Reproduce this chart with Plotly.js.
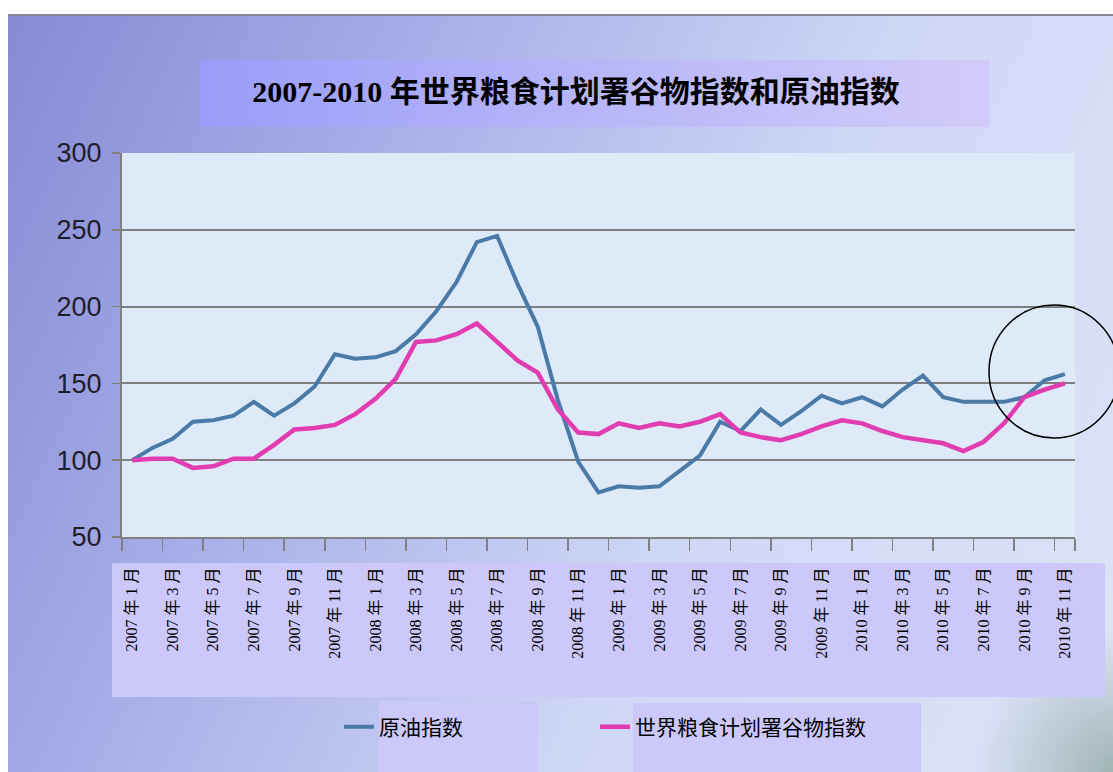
<!DOCTYPE html>
<html>
<head>
<meta charset="utf-8">
<script src="https://cdn.plot.ly/plotly-3.0.1.min.js"></script>
<style>
  html, body { margin: 0; padding: 0; background: #ffffff; }
  #wrap { position: relative; width: 1113px; height: 772px; overflow: hidden; background: #ffffff; }
  #slide {
    position: absolute; left: 8px; top: 14px; right: 0; bottom: 0;
    border-top: 2px solid #8a8a9a;
    background:
      radial-gradient(circle at 100% 100%, rgba(150,172,168,0.85) 0px, rgba(150,172,168,0) 140px),
      linear-gradient(115deg, #868ad4 0%, #a8aee8 30%, #cfd7f6 62%, #dde5f8 100%);
  }
  #titlebox {
    position: absolute; left: 200px; top: 60px; width: 790px; height: 67px;
    background: linear-gradient(90deg, #9a9df8 0%, #b8b6f8 50%, #d2cbfa 100%);
  }
  #chart { position: absolute; left: 0; top: 0; width: 1113px; height: 772px; }
</style>
</head>
<body>
<div id="wrap">
  <div id="slide"></div>
  <div id="titlebox"></div>
  <div id="chart"></div>
</div>
<script>
// Categories: monthly, 2007年1月 – 2010年11月
var months = [
  "2007年1月","2007年2月","2007年3月","2007年4月","2007年5月","2007年6月",
  "2007年7月","2007年8月","2007年9月","2007年10月","2007年11月","2007年12月",
  "2008年1月","2008年2月","2008年3月","2008年4月","2008年5月","2008年6月",
  "2008年7月","2008年8月","2008年9月","2008年10月","2008年11月","2008年12月",
  "2009年1月","2009年2月","2009年3月","2009年4月","2009年5月","2009年6月",
  "2009年7月","2009年8月","2009年9月","2009年10月","2009年11月","2009年12月",
  "2010年1月","2010年2月","2010年3月","2010年4月","2010年5月","2010年6月",
  "2010年7月","2010年8月","2010年9月","2010年10月","2010年11月"
];

// 原油指数
var oilIndex = [
  100,108,114,125,126,129,138,129,137,148,169,166,
  167,171,182,197,216,242,246,215,187,139,99,79,
  83,82,83,93,103,125,119,133,123,132,142,137,
  141,135,146,155,141,138,138,138,141,152,156
];

// 世界粮食计划署谷物指数
var foodIndex = [
  100,101,101,95,96,101,101,110,120,121,123,130,
  140,153,177,178,182,189,177,165,157,133,118,117,
  124,121,124,122,125,130,118,115,113,117,122,126,
  124,119,115,113,111,106,112,124,141,146,150
];

// Tick labels shown on the category axis (every other month)
var tickLabels = [
  "2007年1月","2007年3月","2007年5月","2007年7月","2007年9月","2007年11月",
  "2008年1月","2008年3月","2008年5月","2008年7月","2008年9月","2008年11月",
  "2009年1月","2009年3月","2009年5月","2009年7月","2009年9月","2009年11月",
  "2010年1月","2010年3月","2010年5月","2010年7月","2010年9月","2010年11月"
];
// displayed with the spacing seen in the original labels
var tickText = tickLabels.map(function (s) { return s.replace("年", " 年 ").replace("月", " 月"); });

var yTicks = [50, 100, 150, 200, 250, 300];

var seriesNames = ["原油指数", "世界粮食计划署谷物指数"];
var titleText = "2007-2010 年世界粮食计划署谷物指数和原油指数";

var traces = [
  {
    x: months, y: oilIndex, name: seriesNames[0], type: "scatter", mode: "lines",
    line: { color: "#4a7aa8", width: 4 }, legend: "legend"
  },
  {
    x: months, y: foodIndex, name: seriesNames[1], type: "scatter", mode: "lines",
    line: { color: "#e23cb2", width: 4.5 }, legend: "legend2"
  }
];

var W = 1113, H = 772;
var L = 122, R = 38, T = 153, B = 235;
var pw = W - L - R, ph = H - T - B;
function px(xp) { return (xp - L) / pw; }
function py(yp) { return (H - B - yp) / ph; }

var legendFont = { family: "Noto Sans CJK SC, sans-serif", size: 21, color: "#000000" };

var layout = {
  width: W, height: H,
  margin: { l: L, r: R, t: T, b: B, pad: 0 },
  paper_bgcolor: "rgba(0,0,0,0)",
  plot_bgcolor: "#deeaf7",
  title: {
    text: "<b>" + titleText + "</b>",
    x: 576 / W, xanchor: "center", xref: "container",
    y: 1 - 91 / H, yanchor: "middle", yref: "container",
    font: { family: "Liberation Serif, Noto Sans CJK SC, serif", size: 30, color: "#000000" }
  },
  xaxis: {
    type: "category",
    range: [-0.5, months.length - 0.5],
    tickmode: "array",
    tickvals: tickLabels,
    ticktext: tickText,
    tickson: "boundaries",
    ticks: "outside", ticklen: 12, tickwidth: 1.5, tickcolor: "#808080",
    showline: true, linecolor: "#808080", linewidth: 2,
    showgrid: false, zeroline: false,
    tickangle: -90,
    ticklabelstandoff: 22,
    tickfont: { family: "Liberation Serif, Noto Sans CJK SC, serif", size: 16, color: "#000000" }
  },
  yaxis: {
    range: [50, 300],
    tickmode: "array", tickvals: yTicks,
    ticks: "outside", ticklen: 8, tickwidth: 1.5, tickcolor: "#808080",
    showline: true, linecolor: "#808080", linewidth: 2,
    showgrid: true, gridcolor: "#7f7f7f", gridwidth: 2,
    zeroline: false,
    ticklabelstandoff: 5,
    tickfont: { family: "Liberation Sans Narrow, Liberation Sans, sans-serif", size: 27, color: "#1e1e2a" }
  },
  showlegend: true,
  legend: {
    orientation: "h",
    x: px(339), xanchor: "left",
    y: py(727), yanchor: "middle",
    bgcolor: "rgba(0,0,0,0)",
    font: legendFont
  },
  legend2: {
    orientation: "h",
    x: px(595), xanchor: "left",
    y: py(727), yanchor: "middle",
    bgcolor: "rgba(0,0,0,0)",
    font: legendFont
  },
  shapes: [
    // lavender box behind category labels
    { type: "rect", xref: "paper", yref: "paper", layer: "below",
      x0: px(112), x1: px(1105), y0: py(697), y1: py(563),
      fillcolor: "#ccc9fa", line: { width: 0 } },
    // legend text boxes
    { type: "rect", xref: "paper", yref: "paper", layer: "below",
      x0: px(379), x1: px(538), y0: py(772), y1: py(701),
      fillcolor: "#ccc9fa", line: { width: 0 } },
    { type: "rect", xref: "paper", yref: "paper", layer: "below",
      x0: px(633), x1: px(921), y0: py(772), y1: py(703),
      fillcolor: "#ccc9fa", line: { width: 0 } },
    // hand-drawn highlight circle
    { type: "circle", xref: "paper", yref: "paper", layer: "above",
      x0: px(989), x1: px(1119), y0: py(438), y1: py(305),
      line: { color: "#000000", width: 1.5 }, fillcolor: "rgba(0,0,0,0)" }
  ]
};

Plotly.newPlot("chart", traces, layout, { displayModeBar: false, staticPlot: true });
</script>
</body>
</html>
